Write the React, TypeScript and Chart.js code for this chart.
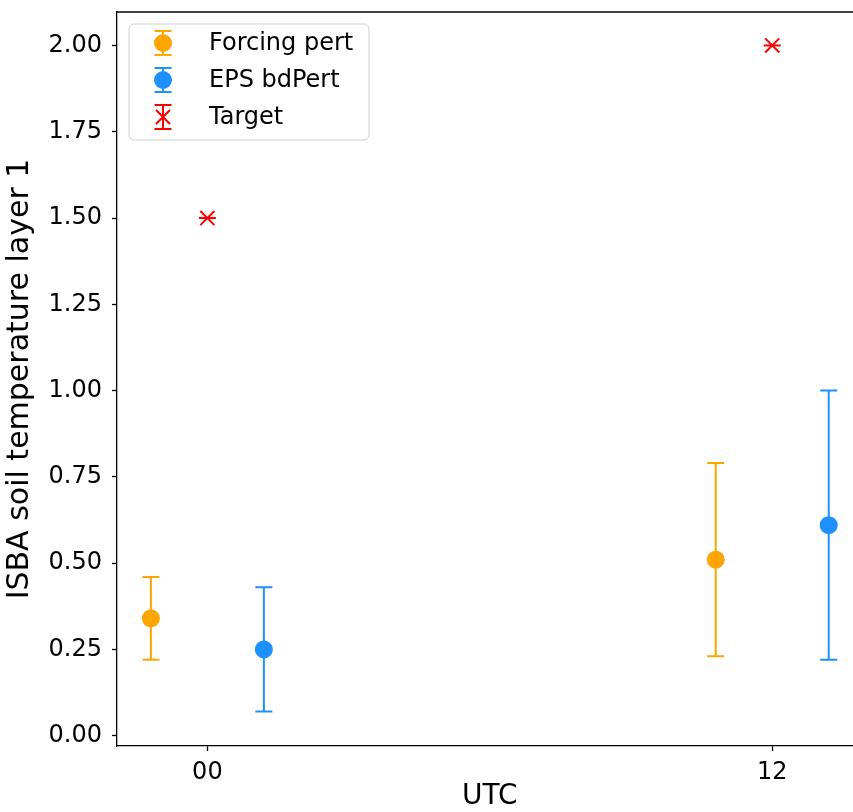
import React, { useEffect, useRef } from "react";
import { Chart, registerables } from "chart.js";

Chart.register(...registerables);

// ---- data ----
const categories = ["00", "12"];
const hours = [0, 12];
const forcingMean = [0.34, 0.51];
const forcingErr = [0.12, 0.28];
const epsMean = [0.25, 0.61];
const epsErr = [0.18, 0.39];
const targetValues = [1.5, 2.0];
const targetErr = [0, 0];
const yTickValues = [0, 0.25, 0.5, 0.75, 1.0, 1.25, 1.5, 1.75, 2.0];
const seriesNames = ["Forcing pert", "EPS bdPert", "Target"];
const seriesColors = ["#FFA500", "#1E90FF", "#FF0000"];
const seriesOffsets = [-1.2, 1.2, 0];

const FONT = "'DejaVu Sans', sans-serif";
const CAP = 8.5;

const errorBarPlugin = {
  id: "errorBars",
  beforeDatasetsDraw(chart: any) {
    const ctx = chart.ctx;
    const xs = chart.scales.x;
    const ys = chart.scales.y;
    chart.data.datasets.forEach((ds: any) => {
      const errs = ds.errors;
      if (!errs) return;
      ctx.save();
      ctx.strokeStyle = ds.borderColor;
      ctx.lineWidth = 2;
      ds.data.forEach((p: any, j: number) => {
        const px = xs.getPixelForValue(p.x);
        const top = ys.getPixelForValue(p.y + errs[j]);
        const bot = ys.getPixelForValue(p.y - errs[j]);
        ctx.beginPath();
        ctx.moveTo(px, top);
        ctx.lineTo(px, bot);
        ctx.moveTo(px - CAP, top);
        ctx.lineTo(px + CAP, top);
        ctx.moveTo(px - CAP, bot);
        ctx.lineTo(px + CAP, bot);
        ctx.stroke();
      });
      ctx.restore();
    });
  },
};

const framePlugin = {
  id: "frame",
  afterDraw(chart: any) {
    const { ctx, chartArea } = chart;
    ctx.save();
    ctx.strokeStyle = "#000";
    ctx.lineWidth = 1.3;
    ctx.beginPath();
    ctx.moveTo(chartArea.left, chartArea.top);
    ctx.lineTo(chartArea.right, chartArea.top);
    ctx.stroke();
    ctx.restore();
  },
};

const legendPlugin = {
  id: "boxLegend",
  afterDraw(chart: any) {
    const { ctx, chartArea } = chart;
    const x0 = chartArea.left + 12;
    const y0 = chartArea.top + 12;
    const w = 240;
    const h = 116;
    const r = 5;
    ctx.save();
    ctx.beginPath();
    ctx.moveTo(x0 + r, y0);
    ctx.lineTo(x0 + w - r, y0);
    ctx.arcTo(x0 + w, y0, x0 + w, y0 + r, r);
    ctx.lineTo(x0 + w, y0 + h - r);
    ctx.arcTo(x0 + w, y0 + h, x0 + w - r, y0 + h, r);
    ctx.lineTo(x0 + r, y0 + h);
    ctx.arcTo(x0, y0 + h, x0, y0 + h - r, r);
    ctx.lineTo(x0, y0 + r);
    ctx.arcTo(x0, y0, x0 + r, y0, r);
    ctx.closePath();
    ctx.fillStyle = "rgba(255,255,255,0.8)";
    ctx.fill();
    ctx.strokeStyle = "#d0d0d0";
    ctx.lineWidth = 1;
    ctx.stroke();

    chart.data.datasets.forEach((ds: any, i: number) => {
      const cy = y0 + 19 + i * 37;
      const mx = x0 + 34;
      ctx.strokeStyle = ds.borderColor;
      ctx.lineWidth = 2;
      ctx.beginPath();
      ctx.moveTo(mx, cy - 12);
      ctx.lineTo(mx, cy + 12);
      ctx.moveTo(mx - CAP, cy - 12);
      ctx.lineTo(mx + CAP, cy - 12);
      ctx.moveTo(mx - CAP, cy + 12);
      ctx.lineTo(mx + CAP, cy + 12);
      ctx.stroke();
      if (ds.pointStyle === "circle") {
        ctx.fillStyle = ds.backgroundColor;
        ctx.beginPath();
        ctx.arc(mx, cy, 9, 0, Math.PI * 2);
        ctx.fill();
      } else {
        const d = 7;
        ctx.beginPath();
        ctx.moveTo(mx - d, cy - d);
        ctx.lineTo(mx + d, cy + d);
        ctx.moveTo(mx - d, cy + d);
        ctx.lineTo(mx + d, cy - d);
        ctx.stroke();
      }
      ctx.fillStyle = "#000";
      ctx.font = `24px ${FONT}`;
      ctx.textBaseline = "middle";
      ctx.textAlign = "left";
      ctx.fillText(ds.label, x0 + 80, cy + 1);
    });
    ctx.restore();
  },
};

const CANVAS_W = 880;
const CANVAS_H = 812;

const zeroPad = (s: any) => {
  s.paddingTop = 0;
  s.paddingBottom = 0;
  s.paddingLeft = 0;
  s.paddingRight = 0;
};

export default function App() {
  const ref = useRef<HTMLCanvasElement | null>(null);

  useEffect(() => {
    if (!ref.current) return;
    const means = [forcingMean, epsMean, targetValues];
    const errs = [forcingErr, epsErr, targetErr];
    const datasets = seriesNames.map((name, i) => ({
      label: name,
      data: hours.map((h, j) => ({ x: h + seriesOffsets[i], y: means[i][j] })),
      errors: errs[i],
      borderColor: seriesColors[i],
      backgroundColor: seriesColors[i],
      pointStyle: i === 2 ? "crossRot" : "circle",
      pointRadius: i === 2 ? 10 : 9,
      pointBorderWidth: i === 2 ? 2 : 0,
      showLine: false,
    }));

    const chart = new Chart(ref.current, {
      type: "scatter",
      data: { datasets: datasets as any },
      options: {
        animation: false,
        responsive: false,
        devicePixelRatio: 1,
        layout: { padding: { top: 12, right: CANVAS_W - 862.6, left: 0, bottom: 0 } },
        plugins: {
          legend: { display: false },
          tooltip: { enabled: false },
        },
        scales: {
          x: {
            type: "linear",
            min: -1.92,
            max: 13.92,
            afterBuildTicks: (s: any) => {
              s.ticks = hours.map((v) => ({ value: v }));
            },
            afterFit: (s: any) => {
              s.height = 66;
              zeroPad(s);
            },
            ticks: {
              callback: (v: any) => categories[hours.indexOf(Number(v))] ?? "",
              font: { family: FONT, size: 24 },
              color: "#000",
              padding: 7,
              maxRotation: 0,
              autoSkip: false,
            },
            grid: {
              drawOnChartArea: false,
              drawTicks: true,
              tickLength: 5,
              tickColor: "#000",
              tickWidth: 1.3,
            },
            border: { color: "#000", width: 1.3 },
            title: {
              display: true,
              text: "UTC",
              color: "#000",
              font: { family: FONT, size: 28, lineHeight: 1 },
              padding: { top: 0, bottom: 1 },
            },
          },
          y: {
            type: "linear",
            min: -0.03,
            max: 2.097,
            afterBuildTicks: (s: any) => {
              s.ticks = yTickValues.map((v) => ({ value: v }));
            },
            afterFit: (s: any) => {
              s.width = 117;
              zeroPad(s);
            },
            ticks: {
              callback: (v: any) => Number(v).toFixed(2),
              font: { family: FONT, size: 24 },
              color: "#000",
              padding: 10,
            },
            grid: {
              drawOnChartArea: false,
              drawTicks: true,
              tickLength: 5,
              tickColor: "#000",
              tickWidth: 1.3,
            },
            border: { color: "#000", width: 1.3 },
            title: {
              display: true,
              text: "ISBA soil temperature layer 1",
              color: "#000",
              font: { family: FONT, size: 30, lineHeight: 1 },
              padding: { top: 5, bottom: 0 },
            },
          },
        },
      },
      plugins: [errorBarPlugin, framePlugin, legendPlugin],
    } as any);
    return () => chart.destroy();
  }, []);

  return (
    <div
      style={{
        position: "fixed",
        left: 0,
        top: 0,
        width: 853,
        height: 812,
        overflow: "hidden",
        background: "#fff",
      }}
    >
      <canvas ref={ref} width={CANVAS_W} height={CANVAS_H} style={{ display: "block" }} />
    </div>
  );
}
